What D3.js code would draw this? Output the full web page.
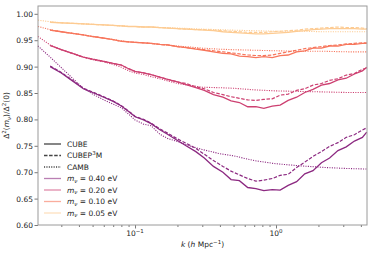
<!DOCTYPE html>
<html>
<head>
<meta charset="utf-8">
<script src="https://cdn.jsdelivr.net/npm/d3@7"></script>
<style>
  body { margin: 0; background: #fff; }
  svg { font-family: 'DejaVu Sans', sans-serif; }
</style>
</head>
<body>
<svg width="374" height="254"></svg>
<script>
// wavenumbers (h/Mpc)
var kSim = [0.025, 0.03, 0.036, 0.043, 0.05, 0.06, 0.07, 0.08, 0.09, 0.1, 0.115, 0.13, 0.15, 0.17, 0.2, 0.23, 0.27, 0.31, 0.36, 0.42, 0.48, 0.55, 0.63, 0.72, 0.82, 0.94, 1.07, 1.22, 1.4, 1.6, 1.83, 2.1, 2.4, 2.75, 3.15, 3.6, 4.1, 4.4]
var kCamb = [0.0205, 0.025, 0.03, 0.036, 0.043, 0.05, 0.06, 0.07, 0.08, 0.09, 0.1, 0.115, 0.13, 0.15, 0.17, 0.2, 0.25, 0.3, 0.4, 0.5, 0.7, 1.0, 1.5, 2.2, 3.2, 4.4]

var masses = ['0.40', '0.20', '0.10', '0.05']
var colors = ['#8c2981', '#cd4071', '#f7765c', '#fdcb92']

// CUBE (solid)
var cube040 = [0.900, 0.888, 0.873, 0.858, 0.851, 0.842, 0.834, 0.8255, 0.815, 0.805, 0.799, 0.792, 0.7805, 0.772, 0.760, 0.750, 0.739, 0.727, 0.711, 0.700, 0.686, 0.684, 0.671, 0.669, 0.665, 0.667, 0.666, 0.675, 0.682, 0.697, 0.703, 0.718, 0.727, 0.741, 0.748, 0.759, 0.766, 0.776]
var cube020 = [0.940, 0.932, 0.925, 0.918, 0.914, 0.910, 0.906, 0.903, 0.896, 0.891, 0.888, 0.885, 0.880, 0.876, 0.871, 0.866, 0.860, 0.855, 0.847, 0.842, 0.835, 0.832, 0.824, 0.824, 0.821, 0.825, 0.827, 0.836, 0.842, 0.851, 0.857, 0.865, 0.868, 0.875, 0.878, 0.886, 0.892, 0.899]
var cube010 = [0.969, 0.966, 0.963, 0.960, 0.957, 0.954, 0.951, 0.948, 0.947, 0.946, 0.945, 0.944, 0.942, 0.941, 0.938, 0.936, 0.933, 0.931, 0.928, 0.925, 0.924, 0.920, 0.919, 0.917, 0.919, 0.917, 0.921, 0.922, 0.928, 0.930, 0.935, 0.935, 0.939, 0.939, 0.942, 0.942, 0.944, 0.944]
var cube005 = [0.984, 0.983, 0.982, 0.981, 0.980, 0.979, 0.978, 0.977, 0.976, 0.976, 0.975, 0.975, 0.974, 0.973, 0.972, 0.971, 0.970, 0.969, 0.968, 0.966, 0.965, 0.964, 0.963, 0.962, 0.962, 0.963, 0.964, 0.965, 0.967, 0.968, 0.970, 0.971, 0.972, 0.972, 0.972, 0.972, 0.971, 0.971]

// CUBEP3M (dashed)
var p3m040 = [0.901, 0.889, 0.874, 0.859, 0.852, 0.843, 0.835, 0.826, 0.816, 0.806, 0.800, 0.793, 0.782, 0.774, 0.763, 0.755, 0.745, 0.734, 0.722, 0.711, 0.702, 0.695, 0.688, 0.683, 0.685, 0.688, 0.694, 0.696, 0.709, 0.719, 0.730, 0.739, 0.749, 0.756, 0.766, 0.771, 0.780, 0.784]
var p3m020 = [0.940, 0.932, 0.925, 0.918, 0.914, 0.910, 0.906, 0.903, 0.896, 0.891, 0.888, 0.885, 0.880, 0.876, 0.871, 0.868, 0.862, 0.858, 0.851, 0.847, 0.843, 0.840, 0.837, 0.836, 0.838, 0.839, 0.846, 0.848, 0.855, 0.858, 0.865, 0.868, 0.874, 0.877, 0.884, 0.887, 0.895, 0.897]
var p3m010 = [0.969, 0.966, 0.963, 0.960, 0.957, 0.954, 0.951, 0.948, 0.947, 0.946, 0.945, 0.944, 0.942, 0.941, 0.938, 0.936, 0.934, 0.932, 0.930, 0.928, 0.926, 0.924, 0.922, 0.921, 0.921, 0.922, 0.925, 0.928, 0.931, 0.934, 0.936, 0.938, 0.940, 0.941, 0.943, 0.944, 0.945, 0.945]
var p3m005 = [0.984, 0.983, 0.982, 0.981, 0.980, 0.979, 0.978, 0.977, 0.976, 0.976, 0.975, 0.975, 0.974, 0.973, 0.972, 0.971, 0.970, 0.970, 0.969, 0.968, 0.967, 0.966, 0.965, 0.965, 0.965, 0.966, 0.967, 0.968, 0.969, 0.971, 0.972, 0.973, 0.974, 0.975, 0.974, 0.974, 0.973, 0.972]

// CAMB (dotted)
var camb040 = [0.939, 0.918, 0.898, 0.878, 0.859, 0.848, 0.837, 0.829, 0.822, 0.810, 0.799, 0.791, 0.788, 0.772, 0.764, 0.758, 0.749, 0.743, 0.735, 0.731, 0.722, 0.716, 0.712, 0.709, 0.707, 0.706]
var camb020 = [0.957, 0.941, 0.932, 0.925, 0.918, 0.913, 0.909, 0.904, 0.899, 0.892, 0.888, 0.885, 0.881, 0.877, 0.873, 0.868, 0.864, 0.861, 0.860, 0.859, 0.856, 0.854, 0.853, 0.852, 0.851, 0.851]
var camb010 = [0.976, 0.970, 0.966, 0.963, 0.960, 0.957, 0.954, 0.951, 0.949, 0.947, 0.946, 0.945, 0.944, 0.942, 0.941, 0.939, 0.937, 0.935, 0.933, 0.932, 0.931, 0.930, 0.929, 0.929, 0.928, 0.928]
var camb005 = [0.988, 0.985, 0.983, 0.982, 0.981, 0.980, 0.979, 0.978, 0.977, 0.976, 0.976, 0.975, 0.975, 0.974, 0.974, 0.973, 0.972, 0.971, 0.970, 0.969, 0.968, 0.967, 0.967, 0.966, 0.966, 0.966]

var yTicks = [0.60, 0.65, 0.70, 0.75, 0.80, 0.85, 0.90, 0.95, 1.00]

var cube = [cube040, cube020, cube010, cube005]
var p3m = [p3m040, p3m020, p3m010, p3m005]
var camb = [camb040, camb020, camb010, camb005]

var svg = d3.select('svg')
var plotL = 38, plotR = 367, plotT = 6, plotB = 225

var x = d3.scaleLog().domain([0.0205, 4.42]).range([plotL, plotR])
var y = d3.scaleLinear().domain([0.6, 1.0148]).range([plotB, plotT])

// lines
var line = function(ks) {
  return d3.line()
    .x(function(d, i) { return x(ks[i]) })
    .y(function(d) { return y(d) })
}
var g = svg.append('g')
masses.forEach(function(m, i) {
  g.append('path').datum(camb[i])
    .attr('d', line(kCamb))
    .attr('fill', 'none')
    .attr('stroke', colors[i])
    .attr('stroke-width', 1.1)
    .attr('stroke-dasharray', '1.1,1.3')
  g.append('path').datum(p3m[i])
    .attr('d', line(kSim))
    .attr('fill', 'none')
    .attr('stroke', colors[i])
    .attr('stroke-width', 1.2)
    .attr('stroke-dasharray', '3.5,1.6')
  g.append('path').datum(cube[i])
    .attr('d', line(kSim))
    .attr('fill', 'none')
    .attr('stroke', colors[i])
    .attr('stroke-width', 1.3)
})

// axes
var xAxis = d3.axisBottom(x)
  .tickValues([0.03, 0.04, 0.05, 0.06, 0.07, 0.08, 0.09, 0.1, 0.2, 0.3, 0.4, 0.5, 0.6, 0.7, 0.8, 0.9, 1, 2, 3, 4])
  .tickSize(2)
  .tickFormat('')
var gx = svg.append('g').attr('transform', 'translate(0,' + plotB + ')').call(xAxis)
gx.selectAll('.tick line')
  .attr('y2', function(d) { return (d === 0.1 || d === 1) ? 3.5 : 2 })
gx.select('.domain').remove()

var gy = svg.append('g').attr('transform', 'translate(' + plotL + ',0)')
  .call(d3.axisLeft(y).tickValues(yTicks).tickSize(3.5).tickFormat(d3.format('.2f')))
gy.select('.domain').remove()

svg.selectAll('.tick line').attr('stroke', '#555').attr('stroke-width', 0.8)
gy.selectAll('.tick text').attr('font-size', 7.5).attr('fill', '#222').attr('x', -5)
  .attr('font-family', 'DejaVu Sans')

// decade labels
var decades = [{k: 0.1, e: '\u22121'}, {k: 1, e: '0'}]
decades.forEach(function(d) {
  var t = svg.append('text')
    .attr('x', x(d.k))
    .attr('y', plotB + 11)
    .attr('text-anchor', 'middle')
    .attr('font-size', 7.5)
    .attr('fill', '#222')
  t.append('tspan').text('10')
  t.append('tspan').attr('dy', -3).attr('font-size', 5.5).text(d.e)
})

// frame
svg.append('rect')
  .attr('x', plotL).attr('y', plotT)
  .attr('width', plotR - plotL).attr('height', plotB - plotT)
  .attr('fill', 'none')
  .attr('stroke', '#9a9a9a')
  .attr('stroke-width', 1)

// axis labels
var xl = svg.append('text')
  .attr('x', (plotL + plotR) / 2)
  .attr('y', 247)
  .attr('text-anchor', 'middle')
  .attr('font-size', 7.5)
  .attr('fill', '#222')
xl.append('tspan').attr('font-style', 'italic').text('k')
xl.append('tspan').text(' (')
xl.append('tspan').attr('font-style', 'italic').text('h')
xl.append('tspan').text(' Mpc')
xl.append('tspan').attr('dy', -3).attr('font-size', 5.5).text('\u22121')
xl.append('tspan').attr('dy', 3).text(')')

var yl = svg.append('text')
  .attr('transform', 'translate(9,' + ((plotT + plotB) / 2) + ') rotate(-90)')
  .attr('text-anchor', 'middle')
  .attr('font-size', 7.5)
  .attr('fill', '#222')
yl.append('tspan').text('\u0394')
yl.append('tspan').attr('dy', -3).attr('font-size', 5.5).text('2')
yl.append('tspan').attr('dy', 3).text('(')
yl.append('tspan').attr('font-style', 'italic').text('m')
yl.append('tspan').attr('dy', 1.5).attr('font-size', 5.5).attr('font-style', 'italic').text('\u03bd')
yl.append('tspan').attr('dy', -1.5).text(')/\u0394')
yl.append('tspan').attr('dy', -3).attr('font-size', 5.5).text('2')
yl.append('tspan').attr('dy', 3).text('(0)')

// legend
var legendCodes = [
  {label: 'CUBE', dash: null},
  {label: 'CUBEP3M', dash: '3.5,1.6'},
  {label: 'CAMB', dash: '1.1,1.3'}
]
var lx = 44, ly = 144, step = 11.5
legendCodes.forEach(function(c, i) {
  var yy = ly + i * step
  svg.append('line')
    .attr('x1', lx).attr('x2', lx + 17)
    .attr('y1', yy).attr('y2', yy)
    .attr('stroke', '#444')
    .attr('stroke-width', 1.3)
    .attr('stroke-dasharray', c.dash)
  var t = svg.append('text')
    .attr('x', lx + 23).attr('y', yy + 2.6)
    .attr('font-size', 7.5).attr('fill', '#222')
  if (c.label === 'CUBEP3M') {
    t.append('tspan').text('CUBEP')
    t.append('tspan').attr('dy', -3).attr('font-size', 5.5).text('3')
    t.append('tspan').attr('dy', 3).text('M')
  } else {
    t.text(c.label)
  }
})
masses.forEach(function(m, i) {
  var yy = ly + (i + 3) * step
  svg.append('line')
    .attr('x1', lx).attr('x2', lx + 17)
    .attr('y1', yy).attr('y2', yy)
    .attr('stroke', colors[i])
    .attr('stroke-opacity', 0.6)
    .attr('stroke-width', 1.3)
  var t = svg.append('text')
    .attr('x', lx + 23).attr('y', yy + 2.6)
    .attr('font-size', 7.5).attr('fill', '#222')
  t.append('tspan').attr('font-style', 'italic').text('m')
  t.append('tspan').attr('dy', 1.5).attr('font-size', 5.5).attr('font-style', 'italic').text('\u03bd')
  t.append('tspan').attr('dy', -1.5).text(' = ' + m + ' eV')
})
</script>
</body>
</html>
